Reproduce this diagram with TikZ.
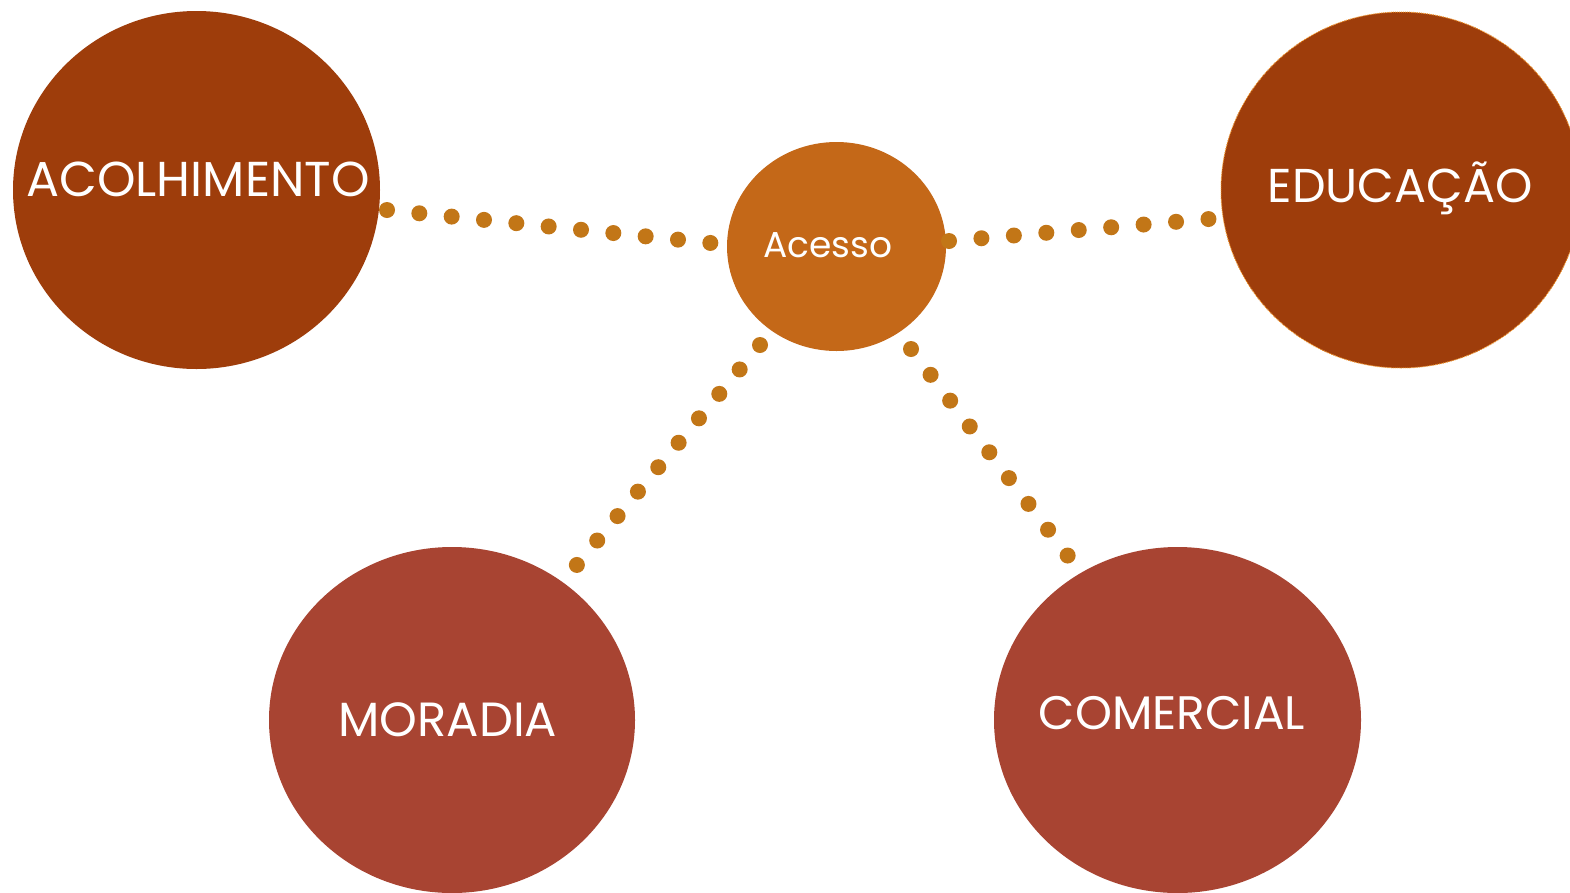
\documentclass[tikz,border=0pt]{standalone}
\usepackage{fontspec}
\setmainfont{Poppins}
\usetikzlibrary{shapes.geometric}
\definecolor{rust}{RGB}{158,61,11}
\definecolor{amber}{RGB}{196,104,24}
\definecolor{brick}{RGB}{168,68,50}
\definecolor{dotcol}{RGB}{194,118,23}
\definecolor{rim}{RGB}{240,146,40}
\tikzset{
  blob/.style={ellipse, inner sep=0pt, draw=none},
  label/.style={text=white, anchor=base, inner sep=0pt},
  dotline/.style={draw=dotcol, line width=16pt, line cap=round}
}
\begin{document}
\begin{tikzpicture}[x=1pt, y=-1pt]
\useasboundingbox (0,0) rectangle (1570,892);
\fill[white] (0,0) rectangle (1570,892);

% the five circles
\node[blob, fill=rust, minimum width=367pt, minimum height=358pt] (acol) at (196.5,190) {};
\node[blob, fill=rust, draw=rim, densely dotted, line width=1pt, minimum width=360pt, minimum height=356pt] (educ) at (1401,190) {};
\node[blob, fill=amber, minimum width=219pt, minimum height=209pt] (acesso) at (836.5,246.5) {};
\node[blob, fill=brick, minimum width=366pt, minimum height=346pt] (morad) at (452,720) {};
\node[blob, fill=brick, minimum width=367pt, minimum height=346pt] (comer) at (1177.5,720) {};

% labels
\node[label, font=\fontsize{49}{54}\selectfont] (acolT) at (198,196) {ACOLHIMENTO};
\node[label, font=\fontsize{47.5}{52}\selectfont] (educT) at (1400,202) {EDUCAÇÃO};
\node[label, font=\fontsize{36}{42}\selectfont] (acessoT) at (828,257) {Acesso};
\node[label, font=\fontsize{48}{53}\selectfont] (moradT) at (448,736) {MORADIA};
\node[label, font=\fontsize{47}{52}\selectfont] (comerT) at (1172,729) {COMERCIAL};

% dotted links from the hub
\coordinate (l1a) at (387,210);   \coordinate (l1b) at (711,243);
\coordinate (l2a) at (949,241);   \coordinate (l2b) at (1209,219);
\coordinate (l3a) at (760,345);   \coordinate (l3b) at (576,566);
\coordinate (l4a) at (911,349);   \coordinate (l4b) at (1068,556);
\draw[dotline, dash pattern=on 0pt off 32.5pt] (l1a) -- (l1b);
\draw[dotline, dash pattern=on 0pt off 32.55pt] (l2a) -- (l2b);
\draw[dotline, dash pattern=on 0pt off 31.8pt] (l3a) -- (l3b);
\draw[dotline, dash pattern=on 0pt off 32.4pt] (l4a) -- (l4b);
\end{tikzpicture}
\end{document}
